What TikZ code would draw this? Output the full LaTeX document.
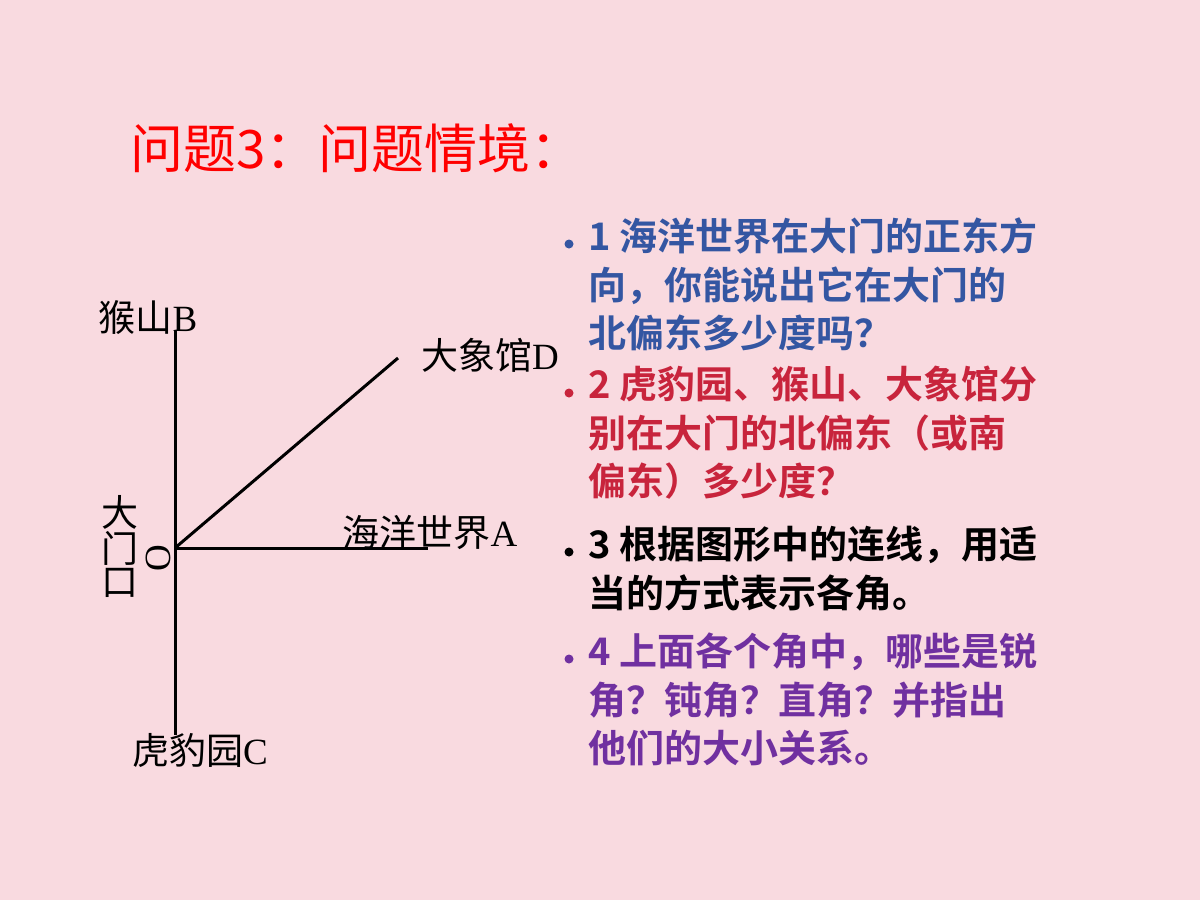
\documentclass[tikz,border=0pt]{standalone}
\usepackage{fontspec}
\setmainfont{Liberation Serif}
\newfontfamily\cjk{Noto Sans CJK SC}
\newfontfamily\cjkb{Noto Sans CJK SC Bold}
\newfontfamily\bulf{DejaVu Sans}
\definecolor{bg}{HTML}{F9DAE0}
\definecolor{cblue}{HTML}{3456A2}
\definecolor{cred}{HTML}{C8243C}
\definecolor{cpurple}{HTML}{7030A0}
\tikzset{lbl/.style={font=\fontsize{37}{38}\selectfont, inner sep=0pt},
item/.style={font=\fontsize{38}{48.5}\selectfont\cjkb, align=left, anchor=north west, inner sep=0pt},
bul/.style={circle, inner sep=0pt, minimum size=9pt}}
\begin{document}
\begin{tikzpicture}[x=1pt,y=-1pt]
\fill[bg] (0,0) rectangle (1200,900);
\useasboundingbox (0,0) rectangle (1200,900);
\node[font=\fontsize{53}{53}\selectfont\cjk, text=red, anchor=west, inner sep=0pt] (title) at (130,148) {问题3：问题情境：};
\coordinate (O) at (175,548);
\coordinate (B) at (175,330);
\coordinate (C) at (175,735);
\coordinate (A) at (428,548);
\coordinate (D) at (398,358);
\draw[line width=3pt] (B) -- (C);
\draw[line width=3pt] (O) -- (A);
\draw[line width=3pt] (O) -- (D);
\node[lbl] (lb) at (148,318) {{\cjk 猴山}B};
\node[lbl] (ld) at (490,355) {{\cjk 大象馆}D};
\node[lbl] (la) at (430,532) {{\cjk 海洋世界}A};
\node[lbl] (lc) at (200,750) {{\cjk 虎豹园}C};
\node[lbl] (g1) at (120,512) {\cjk 大};
\node[lbl] (g2) at (120,548) {\cjk 门};
\node[lbl] (g3) at (120,583) {\cjk 口};
\node[lbl, rotate=90] (lo) at (158,558) {O};
\node[item, text=cblue] (t1) at (588,218) {1 海洋世界在大门的正东方\\向，你能说出它在大门的\\北偏东多少度吗？};
\node[bul, fill=cblue] (b1) at (569,244) {};
\node[item, text=cred] (t2) at (588,366) {2 虎豹园、猴山、大象馆分\\别在大门的北偏东（或南\\偏东）多少度？};
\node[bul, fill=cred] (b2) at (569,393) {};
\node[item, text=black] (t3) at (588,526) {3 根据图形中的连线，用适\\当的方式表示各角。};
\node[bul, fill=black] (b3) at (569,552) {};
\node[item, text=cpurple] (t4) at (588,633) {4 上面各个角中，哪些是锐\\角？钝角？直角？并指出\\他们的大小关系。};
\node[bul, fill=cpurple] (b4) at (569,659) {};
\end{tikzpicture}
\end{document}
